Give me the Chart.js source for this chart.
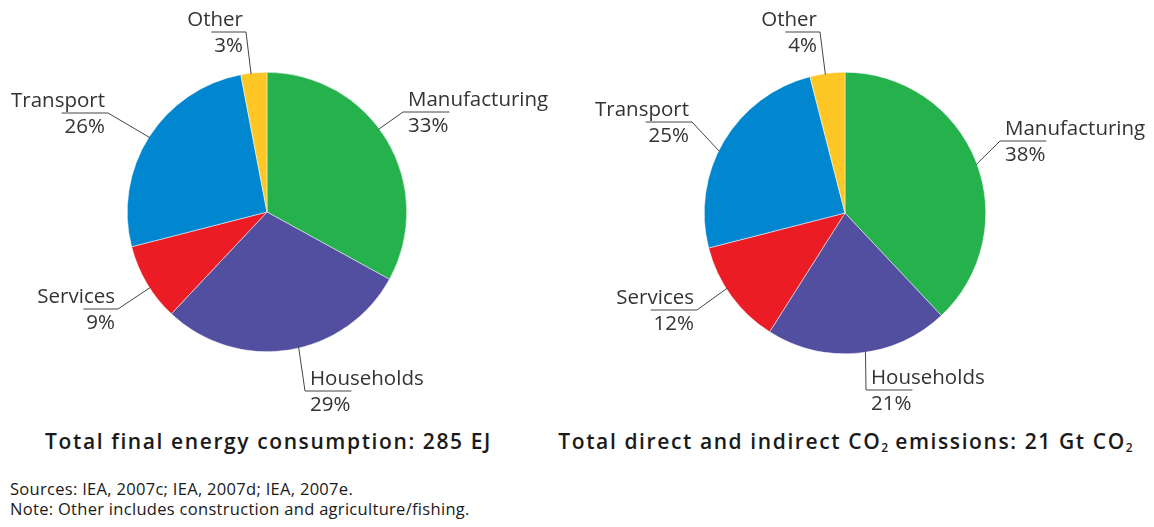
<!DOCTYPE html>
<html>
<head>
<meta charset="utf-8">
<script src="https://cdn.jsdelivr.net/npm/chart.js@4.4.0/dist/chart.umd.min.js"></script>
<style>
  body { margin: 0; background: #fff; }
  #wrap { position: relative; width: 1154px; height: 527px; overflow: hidden; font-family: "Open Sans", sans-serif; }
  canvas { position: absolute; top: 0; }
  .caption { position: absolute; top: 427px; width: 577px; text-align: center; font-size: 21px; font-weight: 600; letter-spacing: 1.6px; color: #1a1a1a; white-space: nowrap; }
  .caption sub { font-size: 12px; vertical-align: -3px; letter-spacing: 0; }
  .note { position: absolute; left: 10px; font-size: 16.5px; letter-spacing: 0.3px; color: #1a1a1a; white-space: nowrap; }
</style>
</head>
<body>
<div id="wrap">
  <canvas id="energyChart" width="577" height="420" style="left:0"></canvas>
  <canvas id="co2Chart" width="577" height="420" style="left:577px"></canvas>
  <div class="caption" style="left:-20px">Total final energy consumption: 285 EJ</div>
  <div class="caption" style="left:557px">Total direct and indirect CO<sub>2</sub> emissions: 21 Gt CO<sub>2</sub></div>
  <div class="note" style="top:477px">Sources: IEA, 2007c; IEA, 2007d; IEA, 2007e.</div>
  <div class="note" style="top:497px">Note: Other includes construction and agriculture/fishing.</div>
</div>
<script>
// sectors, clockwise from 12 o'clock
const sectors = ["Manufacturing", "Households", "Services", "Transport", "Other"];
const energyShares = [33, 29, 9, 26, 3];
const co2Shares = [38, 21, 12, 25, 4];
const sectorColors = ["#25b14c", "#524ea0", "#ec1c24", "#0087cf", "#ffc726"];

// where each label sits (canvas coords): elbow of the leader, side of the text, spot on the arc
const energyLabelPos = [
  { elbow: [403, 112], side: "right", frac: 0.45 },
  { elbow: [305, 391], side: "right", frac: 0.46 },
  { elbow: [118, 309], side: "left", frac: 0.43 },
  { elbow: [108, 113], side: "left", frac: 0.5 },
  { elbow: [246, 32], side: "left", frac: 0.39 }
];
const co2LabelPos = [
  { elbow: [423, 141], side: "right", frac: 0.51 },
  { elbow: [289, 390], side: "right", frac: 0.46 },
  { elbow: [120, 310], side: "left", frac: 0.58 },
  { elbow: [115, 122], side: "left", frac: 0.45 },
  { elbow: [243, 32], side: "left", frac: 0.44 }
];

const leaderLabels = {
  id: "leaderLabels",
  afterDatasetsDraw(chart, args, opts) {
    const ctx = chart.ctx;
    const arcs = chart.getDatasetMeta(0).data;
    const values = chart.data.datasets[0].data;
    ctx.save();
    ctx.font = "20.5px 'Open Sans'";
    ctx.fillStyle = "#333";
    ctx.strokeStyle = "#444";
    ctx.lineWidth = 1;
    arcs.forEach((arc, i) => {
      const pos = opts.layout[i];
      const p = arc.getProps(["x", "y", "startAngle", "endAngle", "outerRadius"], true);
      const a = p.startAngle + (p.endAngle - p.startAngle) * pos.frac;
      const ax = p.x + (p.outerRadius - 1) * Math.cos(a);
      const ay = p.y + (p.outerRadius - 1) * Math.sin(a);
      const [ex, ey] = pos.elbow;
      const name = chart.data.labels[i];
      const pct = values[i] + "%";
      const w = ctx.measureText(pct).width + 6;
      const ux = pos.side === "right" ? ex + w : ex - w;
      ctx.beginPath();
      ctx.moveTo(ax, ay);
      ctx.lineTo(ex, ey);
      ctx.lineTo(ux, ey);
      ctx.stroke();
      ctx.textAlign = pos.side === "right" ? "left" : "right";
      const tx = pos.side === "right" ? ex + 5 : ex - 3;
      ctx.fillText(name, tx, ey - 6);
      ctx.fillText(pct, tx, ey + 20);
    });
    ctx.restore();
  }
};

function makePie(id, shares, layout, padding) {
  return new Chart(document.getElementById(id), {
    type: "pie",
    data: {
      labels: sectors,
      datasets: [{
        data: shares,
        backgroundColor: sectorColors,
        borderColor: "#fff",
        borderWidth: 0.5,
        hoverOffset: 0
      }]
    },
    options: {
      responsive: false,
      animation: false,
      layout: { padding: padding },
      plugins: {
        legend: { display: false },
        tooltip: { enabled: false },
        leaderLabels: { layout: layout }
      }
    },
    plugins: [leaderLabels]
  });
}

makePie("energyChart", energyShares, energyLabelPos, { left: 127, right: 170, top: 72, bottom: 68 });
makePie("co2Chart", co2Shares, co2LabelPos, { left: 127, right: 168, top: 72, bottom: 66 });
</script>
</body>
</html>
